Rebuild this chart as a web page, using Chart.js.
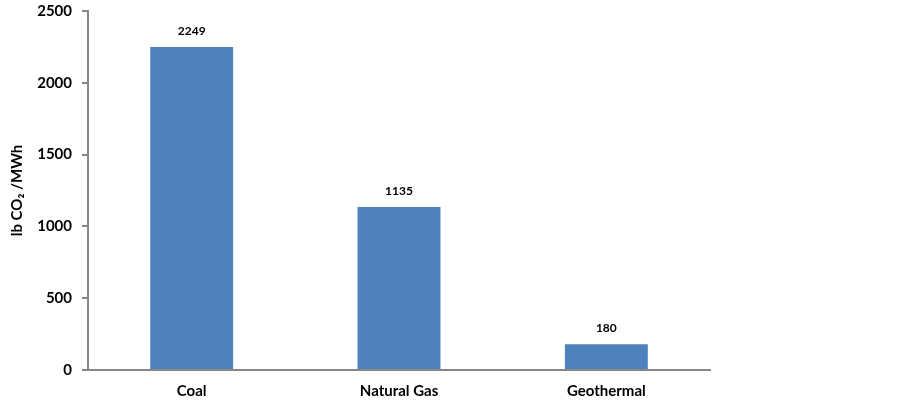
<!DOCTYPE html>
<html lang="en">
<head>
  <meta charset="UTF-8">
  <title>CO2 emissions by source</title>
  <script src="https://cdn.jsdelivr.net/npm/chart.js"></script>
  <style>
    html, body { margin: 0; padding: 0; background: #fff; }
    #wrap { width: 902px; height: 407px; }
  </style>
</head>
<body>
  <div id="wrap"><canvas id="chart"></canvas></div>
  <script>
    const categories = ['Coal', 'Natural Gas', 'Geothermal'];
    const emissions = [2249, 1135, 180];
    const yTicks = [0, 500, 1000, 1500, 2000, 2500];

    const barLabels = {
      id: 'barLabels',
      afterDatasetsDraw(chart) {
        const ctx = chart.ctx;
        ctx.save();
        ctx.font = 'bold 12px Lato, "Open Sans", sans-serif';
        ctx.fillStyle = '#000';
        ctx.textAlign = 'center';
        ctx.textBaseline = 'middle';
        chart.getDatasetMeta(0).data.forEach((bar, i) => {
          ctx.fillText(emissions[i], bar.x, bar.y - 16);
        });
        ctx.restore();
      }
    };

    new Chart(document.getElementById('chart').getContext('2d'), {
      type: 'bar',
      data: {
        labels: categories,
        datasets: [{
          data: emissions,
          backgroundColor: '#4f81bd',
          borderWidth: 0,
          barPercentage: 0.8,
          categoryPercentage: 0.5
        }]
      },
      options: {
        responsive: true,
        maintainAspectRatio: false,
        animation: false,
        layout: { padding: { top: 0, right: 192, left: 0, bottom: 0 } },
        plugins: { legend: { display: false }, tooltip: { enabled: false } },
        scales: {
          x: {
            grid: { display: false, drawTicks: false },
            border: { color: '#868686', width: 2 },
            ticks: {
              color: '#000',
              padding: 12,
              font: { family: 'Lato, "Open Sans", sans-serif', size: 15, weight: 'bold' }
            },
            afterFit(scale) { scale.height = 37; }
          },
          y: {
            min: 0,
            max: 2500,
            afterBuildTicks(scale) { scale.ticks = yTicks.map(v => ({ value: v })); },
            grid: { drawOnChartArea: false, color: '#868686', tickLength: 6, lineWidth: 2 },
            border: { color: '#868686', width: 2 },
            ticks: {
              color: '#000',
              padding: 10,
              callback: v => String(v),
              font: { family: 'Lato, "Open Sans", sans-serif', size: 15, weight: 'bold' }
            },
            title: {
              display: true,
              text: 'lb CO₂ /MWh',
              color: '#000',
              padding: { top: 8, bottom: 0 },
              font: { family: 'Lato, "Open Sans", sans-serif', size: 15, weight: 'bold' }
            },
            afterFit(scale) {
              scale.width = 88;
              scale.paddingTop = 11;
              scale.paddingBottom = 0;
            }
          }
        }
      },
      plugins: [barLabels]
    });
  </script>
</body>
</html>
